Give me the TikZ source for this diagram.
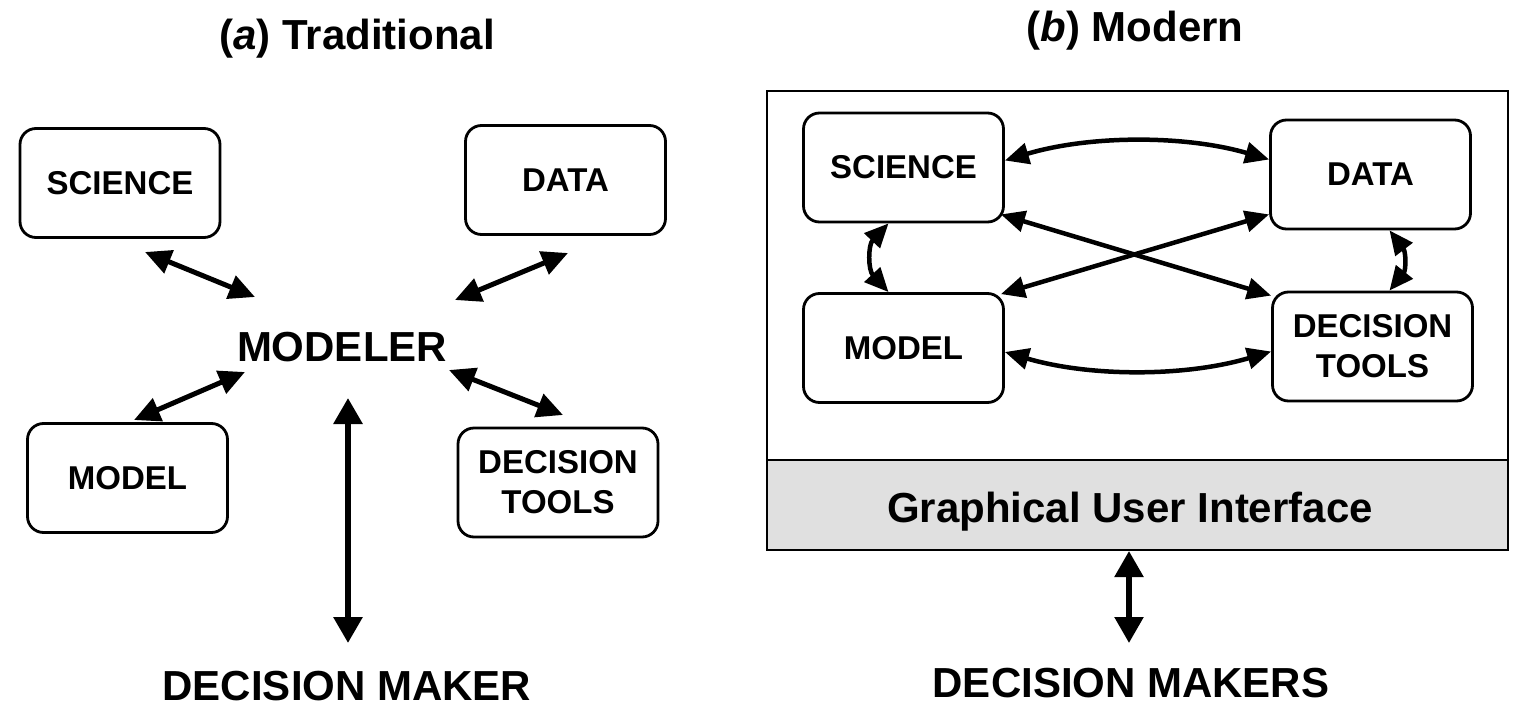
\documentclass[tikz,border=0pt]{standalone}
\usepackage{fontspec}
\setmainfont{Liberation Sans}
\usetikzlibrary{arrows.meta,calc}
\definecolor{guigray}{RGB}{224,224,224}
\begin{document}
\begin{tikzpicture}[x=1pt,y=-1pt,
  box/.style={draw,line width=2.8pt,rounded corners=16pt,minimum width=200pt,minimum height=109pt,align=center,font=\fontsize{33}{40}\selectfont\bfseries},
  big/.style={font=\fontsize{42}{48}\selectfont\bfseries,inner sep=0pt},
  ttl/.style={font=\fontsize{42}{48}\selectfont\bfseries,inner sep=0pt,anchor=base},
  link/.style={line width=5pt,{Triangle[length=26pt,width=24pt]}-{Triangle[length=26pt,width=24pt]}},
  rlink/.style={line width=4.5pt,{Triangle[length=24pt,width=21pt]}-{Triangle[length=24pt,width=21pt]}},
  tall/.style={line width=6pt,{Triangle[length=26pt,width=28pt]}-{Triangle[length=26pt,width=28pt]}},
]
\useasboundingbox (0,0) rectangle (1517,717);

% ---------- (a) Traditional ----------
\node[ttl] (ta) at (357,50) {(\textit{a}) Traditional};
\node[box] (lsci)   at (120,183)   {SCIENCE};
\node[box] (ldata)  at (565.5,180) {DATA};
\node[box] (lmodel) at (127.5,478) {MODEL};
\node[box] (ldec)   at (558,482.5) {DECISION\\TOOLS};
\node[big] (modeler) at (342,347) {MODELER};
\node[big] (dm) at (347,686) {DECISION MAKER};

\coordinate (s1) at (145,252); \coordinate (s2) at (255,297);
\coordinate (d1) at (568,253); \coordinate (d2) at (455,300);
\coordinate (m1) at (245,372); \coordinate (m2) at (134,420);
\coordinate (t1) at (449,370); \coordinate (t2) at (563,415);
\coordinate (v1) at (348,398); \coordinate (v2) at (348,643);
\draw[link] (s1) -- (s2);
\draw[link] (d1) -- (d2);
\draw[link] (m1) -- (m2);
\draw[link] (t1) -- (t2);
\draw[tall] (v1) -- (v2);

% ---------- (b) Modern ----------
\node[ttl] (tb) at (1135,42) {(\textit{b}) Modern};
\node[draw,line width=2pt,minimum width=741pt,minimum height=459pt,inner sep=0pt] (frame) at (1137.5,320.5) {};
\node[draw,line width=2pt,fill=guigray,minimum width=741pt,minimum height=90pt,inner sep=0pt] (gui) at (1137.5,505) {};
\node[font=\fontsize{42}{48}\selectfont\bfseries,inner sep=0pt,anchor=base] (guitext) at (1130,522) {Graphical User Interface};

\node[box] (rsci)   at (903.5,167.5)  {SCIENCE};
\node[box] (rdata)  at (1370.5,174.5) {DATA};
\node[box] (rmodel) at (903.5,348)    {MODEL};
\node[box] (rdec)   at (1372.5,346.5) {DECISION\\TOOLS};
\node[big] (dms) at (1131,683) {DECISION MAKERS};

% curved links between neighbouring boxes
\draw[rlink] ($(rsci.east)+(0,-7)$) .. controls (1090,135) and (1185,135) .. ($(rdata.west)+(0,-15)$);
\draw[rlink] ($(rmodel.east)+(0,4)$) .. controls (1090,377) and (1185,377) .. ($(rdec.west)+(0,5)$);
\draw[rlink] ($(rsci.south)+(-15,0)$) .. controls (868,245) and (868,270) .. ($(rmodel.north)+(-15,0)$);
\draw[rlink] ($(rdata.south)+(19,0)$) .. controls (1406,252) and (1406,270) .. ($(rdec.north)+(17,0)$);
% diagonal links
\draw[rlink] ($(rsci.south east)+(-4,-9)$) -- ($(rdec.north west)+(0,5)$);
\draw[rlink] ($(rdata.south west)+(0,-16)$) -- ($(rmodel.north east)+(-4,2)$);

% GUI to decision makers
\coordinate (g2) at (1129,643);
\draw[line width=5.5pt,{Triangle[length=26pt,width=28pt]}-{Triangle[length=26pt,width=28pt]}] (gui.south -| g2) -- (g2);
\end{tikzpicture}
\end{document}
